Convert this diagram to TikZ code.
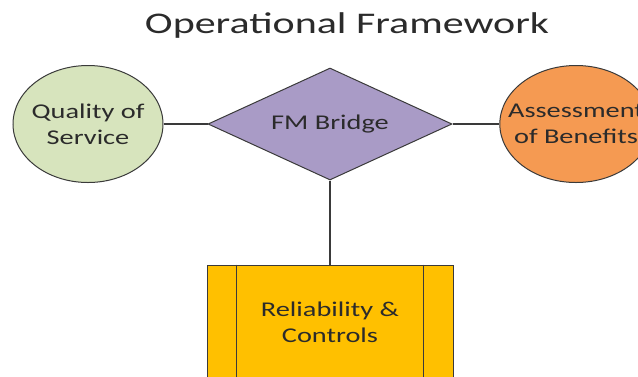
\documentclass[tikz,border=0pt]{standalone}
\usepackage{fontspec}
\setmainfont{Carlito}[FakeStretch=1.35]
\newfontfamily\titlefont{Carlito}[FakeStretch=1.4]
\usetikzlibrary{shapes.geometric}
\definecolor{lnc}{HTML}{3A3A3A}
\definecolor{txc}{HTML}{2B2B2B}
\definecolor{qgreen}{HTML}{D7E4BD}
\definecolor{aorange}{HTML}{F59A52}
\definecolor{fmpurple}{HTML}{A99BC6}
\definecolor{rgold}{HTML}{FFC000}
\tikzset{
  lbl/.style={text=txc, font=\fontsize{21}{26}\selectfont, align=center},
  oval/.style={ellipse, draw=lnc, line width=1pt, inner xsep=-14pt, inner ysep=0pt, minimum width=150pt, minimum height=117pt, lbl},
  bridge/.style={diamond, draw=lnc, line width=1pt, inner sep=0pt, aspect=2.18, minimum width=244pt, minimum height=112pt, fill=fmpurple, lbl},
  procbox/.style={rectangle, draw=lnc, line width=1pt, fill=rgold, minimum width=246pt, minimum height=114pt, inner sep=0pt, lbl},
  conn/.style={draw=lnc, line width=1.2pt}
}
\begin{document}
\begin{tikzpicture}[x=1pt,y=-1pt]
\useasboundingbox (0,0) rectangle (638,376);
\node[text=txc, font=\titlefont\fontsize{30}{36}\selectfont] (title) at (347,25) {Operational Framework};
\node[oval, fill=qgreen] (qos) at (88,124) {Quality of\\Service};
\node[oval, fill=aorange] (aob) at (576,124) {Assessment\\of Benefits};
\node[bridge] (fm) at (330,124) {FM Bridge};
\node[procbox] (rc) at (330,322) {Reliability \&\\Controls};
\draw[lnc, line width=1pt] ([xshift=30pt]rc.north west) -- ([xshift=30pt]rc.south west);
\draw[lnc, line width=1pt] ([xshift=-30pt]rc.north east) -- ([xshift=-30pt]rc.south east);
\draw[conn] (qos.east) -- (fm.west);
\draw[conn] (fm.east) -- (aob.west);
\draw[conn] (fm.south) -- (rc.north);
\end{tikzpicture}
\end{document}
